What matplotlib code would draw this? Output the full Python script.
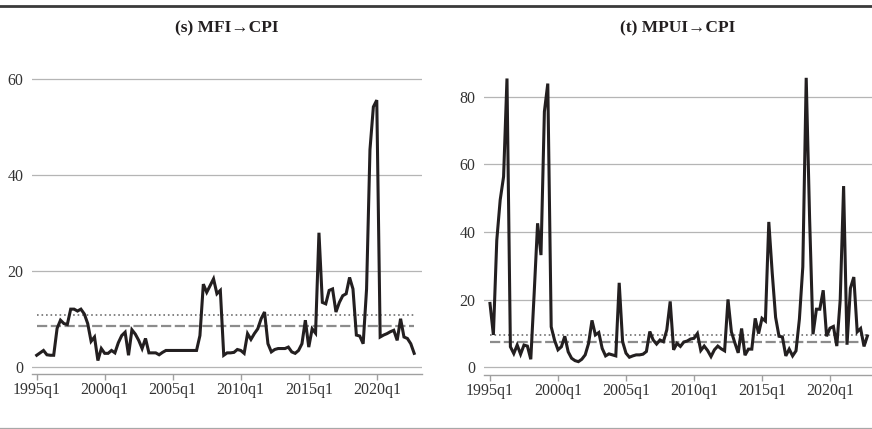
import numpy as np
import matplotlib
matplotlib.use("Agg")
import matplotlib.pyplot as plt

# Quarterly series 1995q1 .. 2022q4 (112 quarters)
mfi_cpi = [
    2.4, 2.9, 3.4, 2.5, 2.4, 2.4, 8.0, 9.7, 9.0, 8.8,
    12.0, 12.0, 11.6, 12.0, 11.0, 9.0, 5.3, 6.2, 1.3, 3.8,
    2.8, 2.8, 3.4, 2.9, 5.0, 6.5, 7.2, 2.4, 7.7, 6.8,
    5.5, 3.8, 5.9, 2.9, 2.9, 2.9, 2.5, 3.0, 3.4, 3.4,
    3.4, 3.4, 3.4, 3.4, 3.4, 3.4, 3.4, 3.4, 6.5, 17.2,
    15.5, 16.9, 18.3, 15.2, 15.9, 2.4, 2.9, 2.9, 3.0, 3.6,
    3.4, 2.8, 6.9, 5.7, 6.9, 7.9, 10.0, 11.4, 4.8, 3.1,
    3.6, 3.8, 3.8, 3.8, 4.1, 3.1, 2.8, 3.4, 4.8, 9.7,
    4.1, 7.9, 7.0, 27.9, 13.4, 13.1, 15.9, 16.2, 11.4, 13.4,
    14.8, 15.2, 18.6, 16.2, 6.6, 6.4, 4.8, 16.2, 45.2, 54.1,
    55.5, 6.2, 6.6, 6.9, 7.3, 7.6, 5.5, 10.0, 6.2, 5.9,
    4.8, 2.8,
]
mpui_cpi = [
    18.9, 9.6, 37.6, 49.5, 56.4, 85.4, 6.1, 4.1, 6.6, 3.9,
    6.6, 6.3, 2.4, 22.0, 42.6, 33.2, 75.6, 83.9, 12.0, 8.0,
    5.2, 6.1, 9.2, 4.6, 2.7, 2.0, 1.7, 2.4, 3.7, 7.1,
    13.9, 9.6, 10.3, 5.6, 3.4, 4.0, 3.7, 3.4, 25.0, 7.6,
    4.2, 3.0, 3.4, 3.7, 3.7, 3.9, 4.7, 10.6, 8.1, 6.9,
    8.1, 7.6, 11.1, 19.5, 5.2, 7.1, 6.2, 7.5, 7.8, 8.4,
    8.6, 10.0, 5.0, 6.3, 5.0, 3.2, 5.2, 6.3, 5.5, 4.9,
    20.1, 10.5, 7.3, 4.3, 11.5, 3.6, 5.4, 5.4, 14.5, 10.0,
    14.5, 13.7, 43.0, 28.0, 14.8, 9.2, 9.0, 3.4, 5.4, 3.4,
    4.9, 14.3, 29.7, 85.6, 44.0, 9.8, 17.2, 17.2, 22.8, 9.2,
    11.6, 12.1, 6.3, 20.0, 53.6, 6.7, 23.4, 26.7, 10.5, 11.5,
    6.2, 9.3,
]

# reference levels (dotted / dashed horizontal lines)
mfi_dotted, mfi_dashed = 10.8, 8.5
mpui_dotted, mpui_dashed = 9.6, 7.4

tick_quarters = [0, 20, 40, 60, 80, 100]
tick_labels = ["1995q1", "2000q1", "2005q1", "2010q1", "2015q1", "2020q1"]

W, H = 872, 429
SERIF = ["Liberation Serif", "DejaVu Serif"]
plt.rcParams["font.family"] = SERIF


def px_axes(fig, x0, x1, ytop, ybot):
    """Add axes using pixel coordinates measured from the top-left."""
    return fig.add_axes([x0 / W, 1 - ybot / H, (x1 - x0) / W, (ybot - ytop) / H])


def draw_panel(ax, values, dotted, dashed, yticks, ylim, xlim, title):
    x = np.arange(len(values))
    ax.set_xlim(*xlim)
    ax.set_ylim(*ylim)

    # gridlines at the y ticks
    for yv in yticks:
        ax.axhline(yv, color="#b5b5b5", lw=0.9, zorder=1)

    ax.plot([x[0], x[-1]], [dotted, dotted], color="#7a7a7a", lw=1.3,
            dashes=(0.9, 1.6), zorder=2)
    ax.plot([x[0], x[-1]], [dashed, dashed], color="#8c8c8c", lw=1.6,
            dashes=(4.6, 1.6), zorder=2)
    ax.plot(x, values, color="#231f20", lw=2.2, solid_joinstyle="miter", zorder=3)

    for side in ["left", "right", "top"]:
        ax.spines[side].set_visible(False)
    ax.spines["bottom"].set_color("#a0a0a0")
    ax.spines["bottom"].set_linewidth(1.0)

    ax.set_yticks(yticks)
    ax.set_yticklabels([str(v) for v in yticks])
    ax.tick_params(axis="y", length=0, pad=6, labelsize=11.5, labelcolor="#333333")
    ax.set_xticks(tick_quarters)
    ax.set_xticklabels(tick_labels)
    ax.tick_params(axis="x", length=4, width=1.0, color="#a0a0a0", pad=2,
                   labelsize=11.5, labelcolor="#333333")
    ax.set_facecolor("none")

    # title centred over the panel
    ax.text(0.5, 1 + (69 - 28) / (ax.bbox.height), title, transform=ax.transAxes,
            ha="center", va="center", fontsize=12.5, fontweight="bold",
            color="#231f20", family=SERIF)


fig = plt.figure(figsize=(W / 100, H / 100), dpi=100)

ax_l = px_axes(fig, 32, 422, 68.9, 374)
draw_panel(ax_l, mfi_cpi, mfi_dotted, mfi_dashed, [0, 20, 40, 60],
           (-1.5, 62), (-1.38, 113.3), "(s) MFI\u2192CPI")

ax_r = px_axes(fig, 484, 872, 69.7, 375)
draw_panel(ax_r, mpui_cpi, mpui_dotted, mpui_dashed, [0, 20, 40, 60, 80],
           (-2.25, 88), (-1.76, 112.35), "(t) MPUI\u2192CPI")

# rules at the top and bottom of the figure
fig.add_artist(plt.Line2D([0, 1], [1 - 6 / H, 1 - 6 / H], color="#3a3a3a", lw=2.0,
                          transform=fig.transFigure))
fig.add_artist(plt.Line2D([0, 1], [1 - 427.5 / H, 1 - 427.5 / H], color="#a8a8a8",
                          lw=0.9, transform=fig.transFigure))

fig.savefig("out.png", dpi=100)
plt.close(fig)
